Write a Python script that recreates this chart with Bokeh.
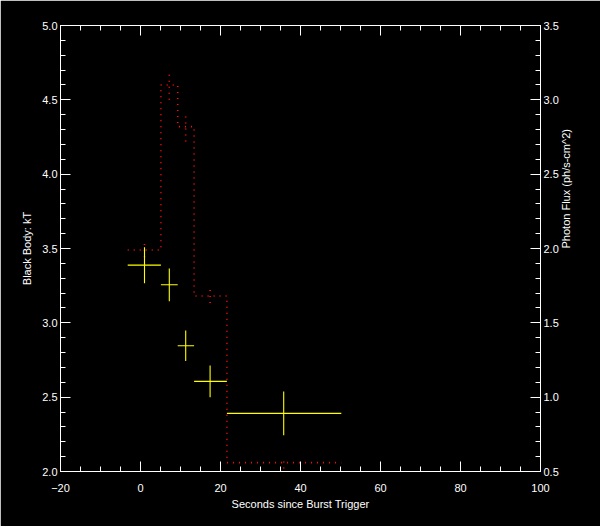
import math
from bokeh.plotting import figure
from bokeh.models import Range1d, LinearAxis, FixedTicker, PrintfTickFormatter, Grid
from bokeh.embed import file_html
from bokeh.resources import INLINE

# ---- data ----
bin_edges = [-3.2, 5.1, 9.3, 13.4, 21.6, 50.2]
time_centers = [1.0, 7.2, 11.3, 17.4, 35.8]
kT = [3.388, 3.256, 2.846, 2.606, 2.391]
kT_err = [0.121, 0.110, 0.103, 0.107, 0.147]
flux = [1.99, 3.10, 2.82, 1.68, 0.56]
flux_err = [0.047, 0.10, 0.10, 0.047, 0.04]

x_major = [-20, 0, 20, 40, 60, 80, 100]
x_minor = [v for v in range(-20, 101, 5)]
kT_major = [2.0, 2.5, 3.0, 3.5, 4.0, 4.5, 5.0]
kT_minor = [round(2.0 + 0.1 * i, 1) for i in range(31)]
flux_major = [0.5, 1.0, 1.5, 2.0, 2.5, 3.0, 3.5]
flux_minor = [round(0.5 + 0.1 * i, 1) for i in range(31)]

FONT = "Liberation Sans"
FS = "11px"

p = figure(width=600, height=526, x_range=Range1d(-20, 100), y_range=Range1d(2, 5),
           output_backend="svg", toolbar_location=None,
           background_fill_color="black", border_fill_color="black",
           min_border_left=60, min_border_right=60, min_border_top=25, min_border_bottom=55,
           x_axis_location=None, y_axis_location=None)
p.outline_line_color = "white"
p.extra_y_ranges = {"flux": Range1d(0.5, 3.5)}
for r in list(p.center):
    if isinstance(r, Grid):
        r.visible = False


def style(ax, labels=True):
    ax.axis_line_color = "white"
    ax.major_tick_line_color = "white"
    ax.minor_tick_line_color = "white"
    ax.major_tick_in = 10
    ax.major_tick_out = 0
    ax.minor_tick_in = 5
    ax.minor_tick_out = 0
    ax.major_label_text_color = "white" if labels else None
    ax.major_label_text_font = FONT
    ax.major_label_text_font_size = FS
    ax.axis_label_text_color = "white"
    ax.axis_label_text_font = FONT
    ax.axis_label_text_font_size = FS
    ax.axis_label_text_font_style = "normal"


xb = LinearAxis(ticker=FixedTicker(ticks=x_major, minor_ticks=x_minor),
                axis_label="Seconds since Burst Trigger")
style(xb)
xb.major_label_standoff = 12
xb.axis_label_standoff = 3
p.add_layout(xb, "below")

xt = LinearAxis(ticker=FixedTicker(ticks=x_major, minor_ticks=x_minor))
style(xt, labels=False)
xt.major_label_standoff = 0
p.add_layout(xt, "above")

yl = LinearAxis(ticker=FixedTicker(ticks=kT_major, minor_ticks=kT_minor),
                formatter=PrintfTickFormatter(format="%.1f"),
                axis_label="Black Body: kT")
style(yl)
yl.major_label_standoff = 3
yl.axis_label_standoff = 6
p.add_layout(yl, "left")

yr = LinearAxis(y_range_name="flux",
                ticker=FixedTicker(ticks=flux_major, minor_ticks=flux_minor),
                formatter=PrintfTickFormatter(format="%.1f"))
style(yr)
yr.major_label_standoff = 3
p.add_layout(yr, "right")

# title-only right axis: label reads bottom-to-top; bounds shift its anchor so the
# text is centred on the frame
yr_title = LinearAxis(y_range_name="flux", ticker=FixedTicker(ticks=[], minor_ticks=[]),
                      bounds=(1.0, 2.18), axis_label="Photon Flux (ph/s-cm^2)")
style(yr_title)
yr_title.axis_line_color = None
yr_title.major_tick_line_color = None
yr_title.minor_tick_line_color = None
yr_title.major_label_standoff = 0
yr_title.axis_label_standoff = 4
yr_title.axis_label_orientation = math.pi / 2
p.add_layout(yr_title, "right")

# photon flux step histogram (dotted red) and its error bars
p.step(x=bin_edges, y=flux + [flux[-1]], mode="after", y_range_name="flux",
       line_color="#ff1010", line_width=1.6, line_dash="1 5")
p.segment(x0=time_centers, y0=[f - e for f, e in zip(flux, flux_err)],
          x1=time_centers, y1=[f + e for f, e in zip(flux, flux_err)],
          y_range_name="flux", line_color="#ff1010", line_width=1.6, line_dash="1 5")

# kT crosses (yellow)
p.segment(x0=bin_edges[:-1], y0=kT, x1=bin_edges[1:], y1=kT,
          line_color="#ffff00", line_width=1.1)
p.segment(x0=time_centers, y0=[k - e for k, e in zip(kT, kT_err)],
          x1=time_centers, y1=[k + e for k, e in zip(kT, kT_err)],
          line_color="#ffff00", line_width=1.1)

open("out.html", "w").write(file_html(p, INLINE))
